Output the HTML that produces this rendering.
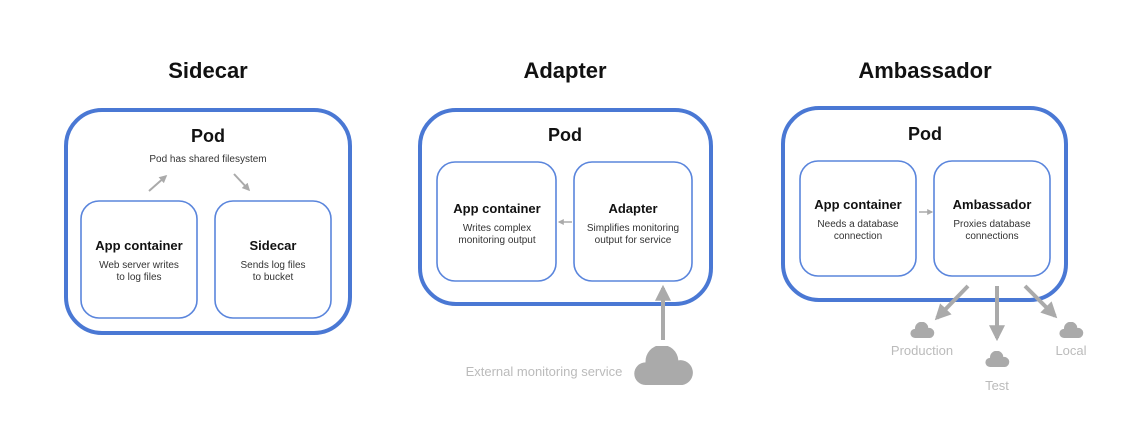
<!DOCTYPE html>
<html><head><meta charset="utf-8"><style>
html,body{margin:0;padding:0;background:#fff;}
svg{display:block;font-family:"Liberation Sans",sans-serif;}
.t{font-weight:bold;font-size:22px;fill:#111;text-anchor:middle}
.p{font-weight:bold;font-size:18px;fill:#111;text-anchor:middle}
.h{font-weight:bold;font-size:13px;fill:#111;text-anchor:middle}
.s{font-size:10px;fill:#333;text-anchor:middle}
.g{font-size:13px;fill:#bbb;text-anchor:middle}
.pod{fill:none;stroke:#4a78d4;stroke-width:4}
.in{fill:none;stroke:#5a85dc;stroke-width:1.6}
.ar{stroke:#aaa;fill:none}
</style></head><body>
<svg width="1124" height="424" viewBox="0 0 1124 424">
<defs>
<marker id="m" viewBox="0 0 10 10" refX="8" refY="5" markerWidth="4" markerHeight="4" orient="auto"><path d="M0,0L10,5L0,10z" fill="#aaa"/></marker>
<symbol id="cl" viewBox="0 0 60 40"><path d="M12,38 A11,11 0 0 1 12,16 A16,16 0 0 1 44,14 A12,12 0 0 1 48,38 Z" fill="#aaa"/></symbol>
</defs>
<!-- Sidecar -->
<text class="t" x="208" y="78">Sidecar</text>
<rect class="pod" x="66" y="110" width="284" height="223" rx="36"/>
<text class="p" x="208" y="142">Pod</text>
<text class="s" x="208" y="162">Pod has shared filesystem</text>
<line class="ar" x1="149" y1="191" x2="166" y2="176" stroke-width="2" marker-end="url(#m)"/>
<line class="ar" x1="234" y1="174" x2="249" y2="190" stroke-width="2" marker-end="url(#m)"/>
<rect class="in" x="81" y="201" width="116" height="117" rx="18"/>
<rect class="in" x="215" y="201" width="116" height="117" rx="18"/>
<text class="h" x="139" y="250">App container</text>
<text class="s" x="139" y="268">Web server writes</text>
<text class="s" x="139" y="280">to log files</text>
<text class="h" x="273" y="250">Sidecar</text>
<text class="s" x="273" y="268">Sends log files</text>
<text class="s" x="273" y="280">to bucket</text>
<!-- Adapter -->
<text class="t" x="565" y="78">Adapter</text>
<rect class="pod" x="420" y="110" width="291" height="194" rx="36"/>
<text class="p" x="565" y="141">Pod</text>
<rect class="in" x="437" y="162" width="119" height="119" rx="18"/>
<rect class="in" x="574" y="162" width="118" height="119" rx="18"/>
<text class="h" x="497" y="213">App container</text>
<text class="s" x="497" y="231">Writes complex</text>
<text class="s" x="497" y="243">monitoring output</text>
<text class="h" x="633" y="213">Adapter</text>
<text class="s" x="633" y="231">Simplifies monitoring</text>
<text class="s" x="633" y="243">output for service</text>
<line class="ar" x1="572" y1="222" x2="559" y2="222" stroke-width="1.5" marker-end="url(#m)"/>
<line class="ar" x1="663" y1="340" x2="663" y2="288" stroke-width="4" marker-end="url(#m)"/>
<use href="#cl" x="633" y="346" width="62" height="41"/>
<text class="g" x="544" y="376">External monitoring service</text>
<!-- Ambassador -->
<text class="t" x="925" y="78">Ambassador</text>
<rect class="pod" x="783" y="108" width="283" height="192" rx="36"/>
<text class="p" x="925" y="140">Pod</text>
<rect class="in" x="800" y="161" width="116" height="115" rx="18"/>
<rect class="in" x="934" y="161" width="116" height="115" rx="18"/>
<text class="h" x="858" y="209">App container</text>
<text class="s" x="858" y="227">Needs a database</text>
<text class="s" x="858" y="239">connection</text>
<text class="h" x="992" y="209">Ambassador</text>
<text class="s" x="992" y="227">Proxies database</text>
<text class="s" x="992" y="239">connections</text>
<line class="ar" x1="919" y1="212" x2="932" y2="212" stroke-width="1.5" marker-end="url(#m)"/>
<line class="ar" x1="968" y1="286" x2="937" y2="318" stroke-width="4" marker-end="url(#m)"/>
<line class="ar" x1="997" y1="286" x2="997" y2="338" stroke-width="4" marker-end="url(#m)"/>
<line class="ar" x1="1025" y1="286" x2="1055" y2="316" stroke-width="4" marker-end="url(#m)"/>
<use href="#cl" x="910" y="322" width="25" height="17"/>
<use href="#cl" x="985" y="351" width="25" height="17"/>
<use href="#cl" x="1059" y="322" width="25" height="17"/>
<text class="g" x="922" y="355">Production</text>
<text class="g" x="997" y="390">Test</text>
<text class="g" x="1071" y="355">Local</text>
</svg>
</body></html>
